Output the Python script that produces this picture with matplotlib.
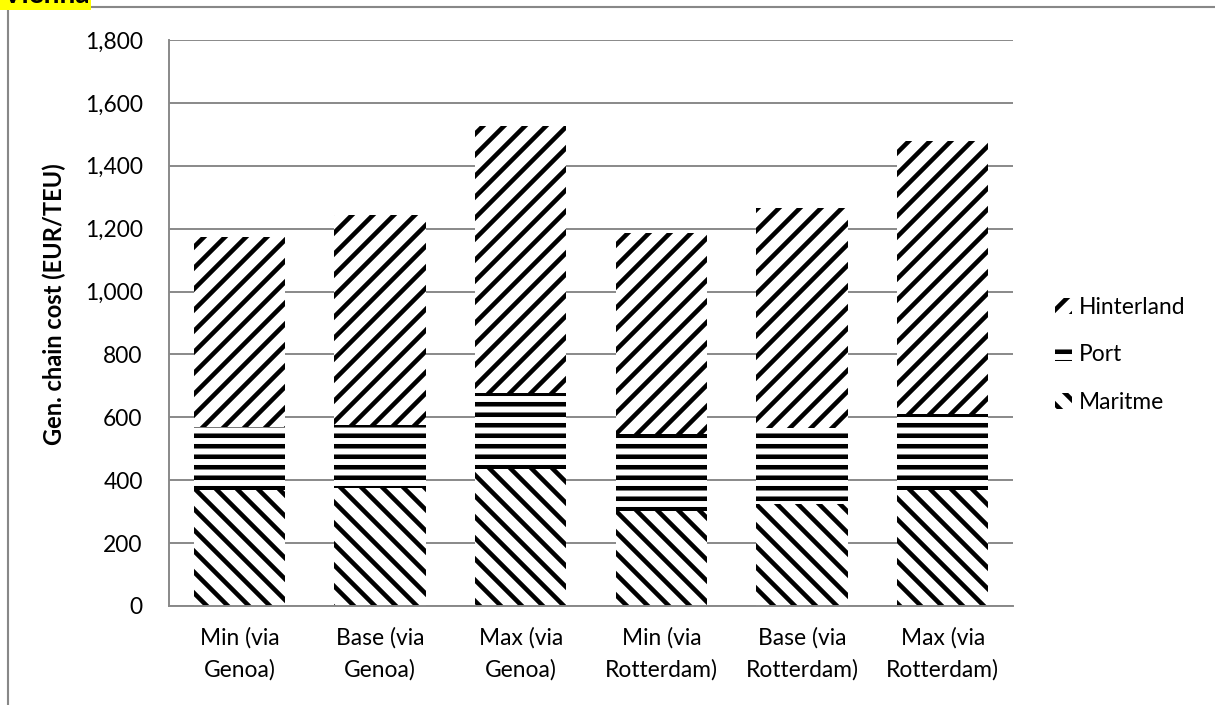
import numpy as np
import matplotlib
matplotlib.use("Agg")
import matplotlib.pyplot as plt
from matplotlib.lines import Line2D

# data (EUR/TEU)
categories = ["Min (via\nGenoa)", "Base (via\nGenoa)", "Max (via\nGenoa)",
              "Min (via\nRotterdam)", "Base (via\nRotterdam)", "Max (via\nRotterdam)"]
maritime = [370, 375, 435, 303, 325, 370]
port = [198, 202, 243, 245, 242, 242]
hinterland = [607, 668, 847, 637, 698, 868]
yticks = [0, 200, 400, 600, 800, 1000, 1200, 1400, 1600, 1800]

plt.rcParams['font.family'] = ['Lato', 'DejaVu Sans']
plt.rcParams['hatch.linewidth'] = 2.6

DPI = 126
fig = plt.figure(figsize=(1215 / DPI, 705 / DPI), dpi=DPI)
ax = fig.add_axes([169 / 1215, 1 - 606 / 705, (1013 - 169) / 1215, (606 - 40) / 705])

x = np.arange(len(categories))
w = 0.65
m = np.array(maritime)
p = np.array(port)
h = np.array(hinterland)

b1 = ax.bar(x, m, w, color='white', edgecolor='black', linewidth=0, hatch='\\\\', label='Maritme')
b2 = ax.bar(x, p, w, bottom=m, color='white', edgecolor='black', linewidth=0, hatch='--', label='Port')
b3 = ax.bar(x, h, w, bottom=m + p, color='white', edgecolor='black', linewidth=0, hatch='//', label='Hinterland')

ax.set_xlim(-0.5, len(categories) - 0.5)
ax.set_ylim(0, 1800)
ax.set_yticks(yticks)
ax.set_yticklabels([f"{v:,}" for v in yticks], fontsize=13)
ax.set_xticks(x)
ax.set_xticklabels(categories, fontsize=13, linespacing=1.6)
ax.tick_params(axis='both', length=0)
ax.tick_params(axis='y', pad=15)
ax.tick_params(axis='x', pad=12)

ax.grid(axis='y', color='#888888', linewidth=1.1)
ax.set_axisbelow(True)
for s in ['top', 'right']:
    ax.spines[s].set_visible(False)
for s in ['left', 'bottom']:
    ax.spines[s].set_color('#888888')
    ax.spines[s].set_linewidth(1.1)

ax.set_ylabel("Gen. chain cost (EUR/TEU)", fontsize=13.5, fontweight='bold')
ax.yaxis.set_label_coords((66 - 169) / 844, 0.534)

leg = fig.legend(handles=[b3, b2, b1], labels=['Hinterland', 'Port', 'Maritme'],
                 loc='center left', bbox_to_anchor=(1055 / 1215, 1 - 355 / 705),
                 frameon=False, fontsize=13, handlelength=0.75, handleheight=0.7,
                 handletextpad=0.3, labelspacing=1.15, borderpad=0, borderaxespad=0)

# outer chart frame (left and top edges visible)
fig.add_artist(Line2D([8 / 1215, 8 / 1215], [0, 1 - 7 / 705], transform=fig.transFigure,
                      color='#888888', linewidth=1.2))
fig.add_artist(Line2D([8 / 1215, 1], [1 - 7 / 705, 1 - 7 / 705], transform=fig.transFigure,
                      color='#888888', linewidth=1.2))

# cut-off highlighted heading above the frame
fig.text(2 / 1215, 1 - 3 / 705, "Vienna", fontsize=16, fontweight='bold', va='baseline',
         bbox=dict(facecolor='yellow', edgecolor='none', pad=1))

fig.savefig("out.png", dpi=DPI)
